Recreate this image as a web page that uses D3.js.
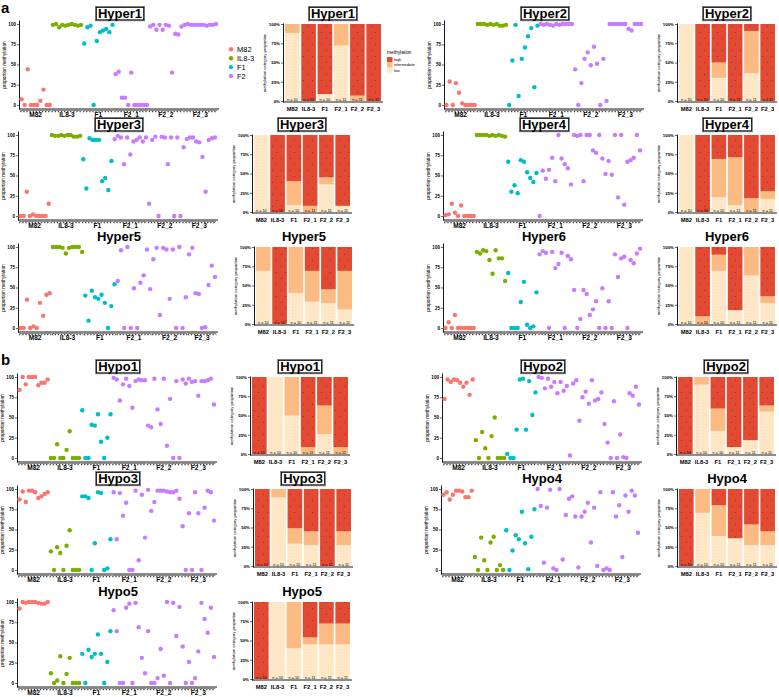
<!DOCTYPE html>
<html><head><meta charset="utf-8">
<script src="https://cdn.jsdelivr.net/npm/d3@7"></script>
<style>body{margin:0;background:#fff} text{font-family:"Liberation Sans",Arial,sans-serif}</style>
</head><body><svg id="c" width="779" height="697"></svg>
<script>
// ---------------- data ----------------
const groups = ["M82","IL8-3","F1","F2_1","F2_2","F2_3"];
const legendGroups = ["M82","IL8-3","F1","F2"];
const categories = ["high","intermediate","low"];
const yTicks = [0,25,50,75,100];
const yTickLabels = ["0","25","50","75","100"];
const pTicks = [0,25,50,75,100];
const pTickLabels = ["0%","25%","50%","75%","100%"];
const nLabels = ["n = 10","n = 10","n = 10","n = 11","n = 11","n = 11"];

// scatter values per group: M82, IL8-3, F1, F2_1, F2_2, F2_3
const hyper1 = [[7,0,44,0,0,0,5,19,0,0],[99,100,96,99,98,99,100,99,98,99],[76,96,98,0,79,90,92,94,90,99],[38,41,9,9,0,40,0,0,0,0,0],[97,99,93,99,93,99,98,40,88,87,97],[99,100,99,99,99,99,99,98,99,99,100]];
const hyper2 = [[0,29,0,27,15,2,0,0,0,0],[100,100,100,99,100,99,100,98,98,99],[0,55,99,11,57,71,85,95,22,98],[100,99,100,99,98,100,99,100,100,100,100],[44,0,27,57,65,49,72,51,0,57,5],[100,100,100,100,100,100,94,92,100,100,100]];
const hyper3 = [[0,0,30,0,2,0,0,0,0,15],[100,99,99,100,99,100,100,98,98,99],[70,34,96,94,94,94,43,47,32,68],[95,99,97,64,97,76,92,94,97,92,97],[15,94,98,0,98,97,64,97,0,97,0],[85,95,97,97,92,91,73,30,94,96,97]];
const hyper4 = [[1,2,15,4,0,13,0,0,0,0],[100,100,100,100,99,100,99,100,99,98],[67,30,38,28,69,67,54,47,42,53],[0,56,46,57,72,43,100,71,64,59,39],[100,99,100,43,100,100,81,78,100,71,52],[68,51,100,23,100,14,67,69,72,100,81]];
const hyper5 = [[0,0,35,0,2,0,31,15,41,43],[100,100,100,99,92,99,100,100,100,94],[40,9,46,38,36,41,31,0,27,54],[58,96,0,100,0,49,0,56,65,97,48],[85,99,16,99,97,36,97,0,100,0,38],[91,99,43,42,0,1,53,77,63]];
const hyper6 = [[0,7,0,16,0,0,0,0,0,0],[94,92,96,95,84,67,96,86,86,58],[68,0,0,0,32,57,4,0,2,44],[91,95,93,0,94,74,79,93,0,89,85],[47,0,11,47,42,16,23,33,0,49,0],[33,0,91,63,86,88,0,84,80,92,98]];
const hypo1 = [[84,100,91,100,100,100,90,93,93,97],[0,0,17,0,0,10,33,0,0,0],[59,0,0,41,40,54,20,0,25,54],[99,97,71,91,98,89,62,95,97,96,96],[40,38,98,60,42,98,15,73,0,95,0],[97,92,98,94,95,77,95,95,96,98,66]];
const hypo2 = [[73,97,94,97,96,93,88,93,78,97],[22,0,32,12,0,27,50,0,0,0],[5,0,0,35,97,98,35,95,53,81],[100,99,86,98,88,94,80,94,83,89,3],[92,96,46,75,82,67,96,71,73,81,42],[19,0,70,0,29,1,0,80,77,88,66]];
const hypo3 = [[87,97,84,98,98,96,89,91,94,96],[23,0,28,21,0,30,49,0,0,0],[91,91,89,0,33,96,95,0,2,38],[96,38,95,67,83,0,0,98,12,93,40],[99,73,84,98,98,98,97,96,96,98,88],[54,0,70,0,96,70,0,77,98,96,61]];
const hypo4 = [[93,96,87,93,98,98,97,90,90,98],[16,0,40,12,0,34,41,0,6,0],[49,0,24,43,38,72,33,1,41,75],[100,79,9,77,99,2,0,100,13,68,88],[91,66,3,66,72,83,34,77,5,96,0],[2,0,96,66,80,16,92,72,98,92,46]];
const hypo5 = [[92,100,99,100,100,100,99,98,98,100],[12,0,3,33,0,11,31,0,0,0],[36,0,41,32,36,60,36,0,26,64],[90,64,0,0,93,98,0,99,69,31,12],[64,0,0,6,42,9,100,0,99,58,94],[45,0,26,0,6,39,99,79,62,93,32]];

// bar proportions per group: [low, intermediate, high] (%)
const hyper1Bars = [[88,12,0],[0,0,100],[9,0,91],[72,28,0],[0,7,93],[0,0,100]];
const hyper2Bars = [[100,0,0],[0,0,100],[30,20,50],[0,0,100],[36,55,9],[0,0,100]];
const hyper3Bars = [[100,0,0],[0,0,100],[9,31,60],[0,8,92],[36,9,55],[8,0,92]];
const hyper4Bars = [[100,0,0],[0,0,100],[19,50,31],[9,62,29],[0,18,82],[17,10,73]];
const hyper5Bars = [[69,31,0],[0,0,100],[40,60,0],[29,40,31],[27,18,55],[19,50,31]];
const hyper6Bars = [[100,0,0],[0,10,90],[69,21,10],[18,0,82],[63,37,0],[27,9,64]];
const hypo1Bars = [[0,0,100],[100,0,0],[50,50,0],[0,9,91],[26,37,37],[0,9,91]];
const hypo2Bars = [[0,0,100],[90,10,0],[30,29,41],[9,0,91],[18,0,82],[55,8,37]];
const hypo3Bars = [[0,0,100],[89,11,0],[29,20,51],[27,18,55],[0,0,100],[27,18,55]];
const hypo4Bars = [[0,0,100],[69,31,0],[39,40,21],[36,0,64],[27,27,46],[27,18,55]];
const hypo5Bars = [[0,0,100],[100,0,0],[40,60,0],[45,9,46],[45,27,28],[45,27,28]];

// ---------------- layout / style ----------------
const groupColor = {"M82":"#F8766D","IL8-3":"#7CAE00","F1":"#00BFC4","F2":"#C77CFF"};
const catColor = {low:"#FEE8C8", int:"#FDBB84", high:"#E34A33"};
const panels = [
  {name:"Hyper1", pts:hyper1, bars:hyper1Bars, sAxis:19, bAxis:283, lev:24, boxed:true},
  {name:"Hyper2", pts:hyper2, bars:hyper2Bars, sAxis:444, bAxis:677, lev:24, boxed:true},
  {name:"Hyper3", pts:hyper3, bars:hyper3Bars, sAxis:18, bAxis:252, lev:135, boxed:true},
  {name:"Hyper4", pts:hyper4, bars:hyper4Bars, sAxis:443, bAxis:677, lev:135, boxed:true},
  {name:"Hyper5", pts:hyper5, bars:hyper5Bars, sAxis:18, bAxis:254, lev:247, boxed:false},
  {name:"Hyper6", pts:hyper6, bars:hyper6Bars, sAxis:443, bAxis:677, lev:247, boxed:false},
  {name:"Hypo1", pts:hypo1, bars:hypo1Bars, sAxis:17, bAxis:250, lev:377, boxed:true},
  {name:"Hypo2", pts:hypo2, bars:hypo2Bars, sAxis:442, bAxis:676, lev:377, boxed:true},
  {name:"Hypo3", pts:hypo3, bars:hypo3Bars, sAxis:17, bAxis:253, lev:489, boxed:true},
  {name:"Hypo4", pts:hypo4, bars:hypo4Bars, sAxis:441, bAxis:677, lev:489, boxed:false},
  {name:"Hypo5", pts:hypo5, bars:hypo5Bars, sAxis:17, bAxis:252, lev:602, boxed:false}
];

const svg = d3.select("#c");
const defs = svg.append("defs");
function makePattern(id, w, h, dots, fill){
  const p = defs.append("pattern").attr("id", id).attr("width", w).attr("height", h).attr("patternUnits","userSpaceOnUse");
  dots.forEach(d => p.append("circle").attr("cx", d[0]).attr("cy", d[1]).attr("r", d[2]).attr("fill", fill));
}
makePattern("dotHigh", 9, 12, [[2.5,2.5,0.45],[6.5,8.5,0.45]], "#4a1a12");
makePattern("dotLight", 3, 3, [[1.5,1.5,0.35]], "rgba(220,140,80,0.35)");

function title(parent, text, cx, cy, boxed){
  const g = parent.append("g");
  const bg = g.append("g");
  const t = g.append("text").attr("x", cx).attr("y", cy + 4.6).attr("text-anchor","middle")
    .attr("font-size", 13).attr("font-weight","bold").text(text);
  if (boxed){
    const bb = t.node().getBBox();
    bg.append("rect").attr("x", bb.x - 2.2).attr("y", cy - 6.6).attr("width", bb.width + 4.4).attr("height", 13.6)
      .attr("fill","#fff").attr("stroke","#777").attr("stroke-width",1.6);
    bg.append("rect").attr("x", bb.x - 1.6).attr("y", cy - 6.0).attr("width", bb.width + 3.2).attr("height", 12.4)
      .attr("fill","#fff").attr("stroke","#000").attr("stroke-width",0.8);
  }
}

panels.forEach(P => {
  const g = svg.append("g");
  const lev = P.lev;
  // ---------- scatter ----------
  const flat = [];
  let idx = 0;
  const ranges = [];
  P.pts.forEach((arr, gi) => {
    const start = idx;
    arr.forEach(v => { flat.push({g: groups[gi], v: v, i: idx}); idx++; });
    ranges.push([start, idx - 1]);
  });
  const N = idx;
  const x = d3.scaleLinear().domain([0, N - 1]).range([P.sAxis + 2.5, P.sAxis + 197]);
  const y = d3.scaleLinear().domain([-5, 105]).range([lev + 85, lev - 4]);
  const yAx = g.append("g").attr("transform", `translate(${P.sAxis},0)`)
    .call(d3.axisLeft(y).tickValues(yTicks).tickFormat((d,i)=>yTickLabels[i]).tickSize(2).tickSizeOuter(0));
  yAx.select(".domain").attr("stroke-width",0.9);
  yAx.selectAll("text").attr("font-size",4.6).attr("font-weight","bold").attr("x",-3);
  yAx.selectAll(".tick line").attr("stroke-width",0.6);
  g.append("line").attr("x1", P.sAxis).attr("x2", P.sAxis + 200).attr("y1", lev + 85).attr("y2", lev + 85)
    .attr("stroke","#000").attr("stroke-width",0.9);
  g.append("text").attr("transform", `translate(${P.sAxis - 13},${lev + 41}) rotate(-90)`)
    .attr("text-anchor","middle").attr("font-size",4.8).text("proportion methylation");
  // group brackets + labels
  ranges.forEach((r, gi) => {
    const x0 = x(r[0]) - 1.3, x1 = x(r[1]) + 1.3;
    g.append("line").attr("x1", x0).attr("x2", x1).attr("y1", lev + 86.4).attr("y2", lev + 86.4)
      .attr("stroke","#222").attr("stroke-width",0.6);
    g.append("line").attr("x1", x0).attr("x2", x1).attr("y1", lev + 87.6).attr("y2", lev + 87.6)
      .attr("stroke","#444").attr("stroke-width",1.4).attr("stroke-dasharray","1.3,1.8");
    g.append("text").attr("x", (x(r[0]) + x(r[1])) / 2).attr("y", lev + 92.6).attr("text-anchor","middle")
      .attr("font-size",6.6).attr("font-weight","bold").text(groups[gi]);
  });
  g.append("g").selectAll("circle").data(flat).join("circle")
    .attr("cx", d => x(d.i)).attr("cy", d => y(d.v)).attr("r", 2.2)
    .attr("fill", d => groupColor[d.g.startsWith("F2") ? "F2" : d.g]);
  title(g, P.name, P.sAxis + 101, lev - 10.6, P.boxed);

  // ---------- stacked bars ----------
  const table = groups.map((gr, i) => ({group: gr, low: P.bars[i][0], int: P.bars[i][1], high: P.bars[i][2]}));
  const series = d3.stack().keys(["low","int","high"])(table);
  const xb = d3.scaleBand().domain(groups).range([P.bAxis + 2, P.bAxis + 98]).paddingInner(0.1);
  const yb = d3.scaleLinear().domain([-1.3, 101.3]).range([lev + 78, lev - 1]);
  series.forEach(s => {
    const key = s.key;
    const sg = g.append("g");
    sg.selectAll("rect.f").data(s).join("rect").attr("class","f")
      .attr("x", d => xb(d.data.group)).attr("width", xb.bandwidth())
      .attr("y", d => yb(d[1])).attr("height", d => Math.max(0, yb(d[0]) - yb(d[1])))
      .attr("fill", catColor[key]);
    sg.selectAll("rect.p").data(s).join("rect").attr("class","p")
      .attr("x", d => xb(d.data.group) + 1).attr("width", xb.bandwidth() - 2)
      .attr("y", d => yb(d[1])).attr("height", d => Math.max(0, yb(d[0]) - yb(d[1])))
      .attr("fill", key === "high" ? "url(#dotHigh)" : "url(#dotLight)");
  });
  g.append("g").selectAll("text").data(groups).join("text")
    .attr("x", d => xb(d) + xb.bandwidth()/2).attr("y", lev + 76.6).attr("text-anchor","middle")
    .attr("font-size",3.8).text((d,i) => nLabels[i]);
  const ybAx = g.append("g").attr("transform", `translate(${P.bAxis},0)`)
    .call(d3.axisLeft(yb).tickValues(pTicks).tickFormat((d,i)=>pTickLabels[i]).tickSize(2).tickSizeOuter(0));
  ybAx.select(".domain").attr("stroke-width",0.9);
  ybAx.selectAll("text").attr("font-size",4.4).attr("font-weight","bold").attr("x",-3);
  ybAx.selectAll(".tick line").attr("stroke-width",0.6);
  g.append("line").attr("x1", P.bAxis).attr("x2", P.bAxis + 100).attr("y1", lev + 78).attr("y2", lev + 78)
    .attr("stroke","#000").attr("stroke-width",0.9);
  g.append("g").selectAll("text").data(groups).join("text")
    .attr("x", d => xb(d) + xb.bandwidth()/2).attr("y", lev + 87).attr("text-anchor","middle")
    .attr("font-size",5.8).attr("font-weight","bold").text(d => d);
  g.append("text").attr("transform", `translate(${P.bAxis - 17},${lev + 39}) rotate(-90)`)
    .attr("text-anchor","middle").attr("font-size",4.2).text("methylation category proportion");
  title(g, P.name, P.bAxis + 50, lev - 10.6, P.boxed);
});

// ---------- legends ----------
const lg = svg.append("g");
legendGroups.forEach((gr, i) => {
  lg.append("circle").attr("cx", 231).attr("cy", 49.3 + i * 8.9).attr("r", 2.2).attr("fill", groupColor[gr]);
  lg.append("text").attr("x", 237).attr("y", 49.3 + i * 8.9 + 2.6).attr("font-size", 7.5).text(gr);
});
const ml = svg.append("g");
ml.append("text").attr("x", 387).attr("y", 54).attr("font-size", 4.8).text("methylation");
const mlKeys = ["high","int","low"];
categories.forEach((c, i) => {
  ml.append("rect").attr("x", 387).attr("y", 57 + i * 5.3).attr("width", 5.5).attr("height", 5.3).attr("fill", catColor[mlKeys[i]]);
  ml.append("text").attr("x", 394).attr("y", 61 + i * 5.3).attr("font-size", 3.8).text(c);
});

// panel letters
svg.append("text").attr("x", 1).attr("y", 12.5).attr("font-size", 15).attr("font-weight","bold").text("a");
svg.append("text").attr("x", 1).attr("y", 365).attr("font-size", 15).attr("font-weight","bold").text("b");
</script>
</body></html>
